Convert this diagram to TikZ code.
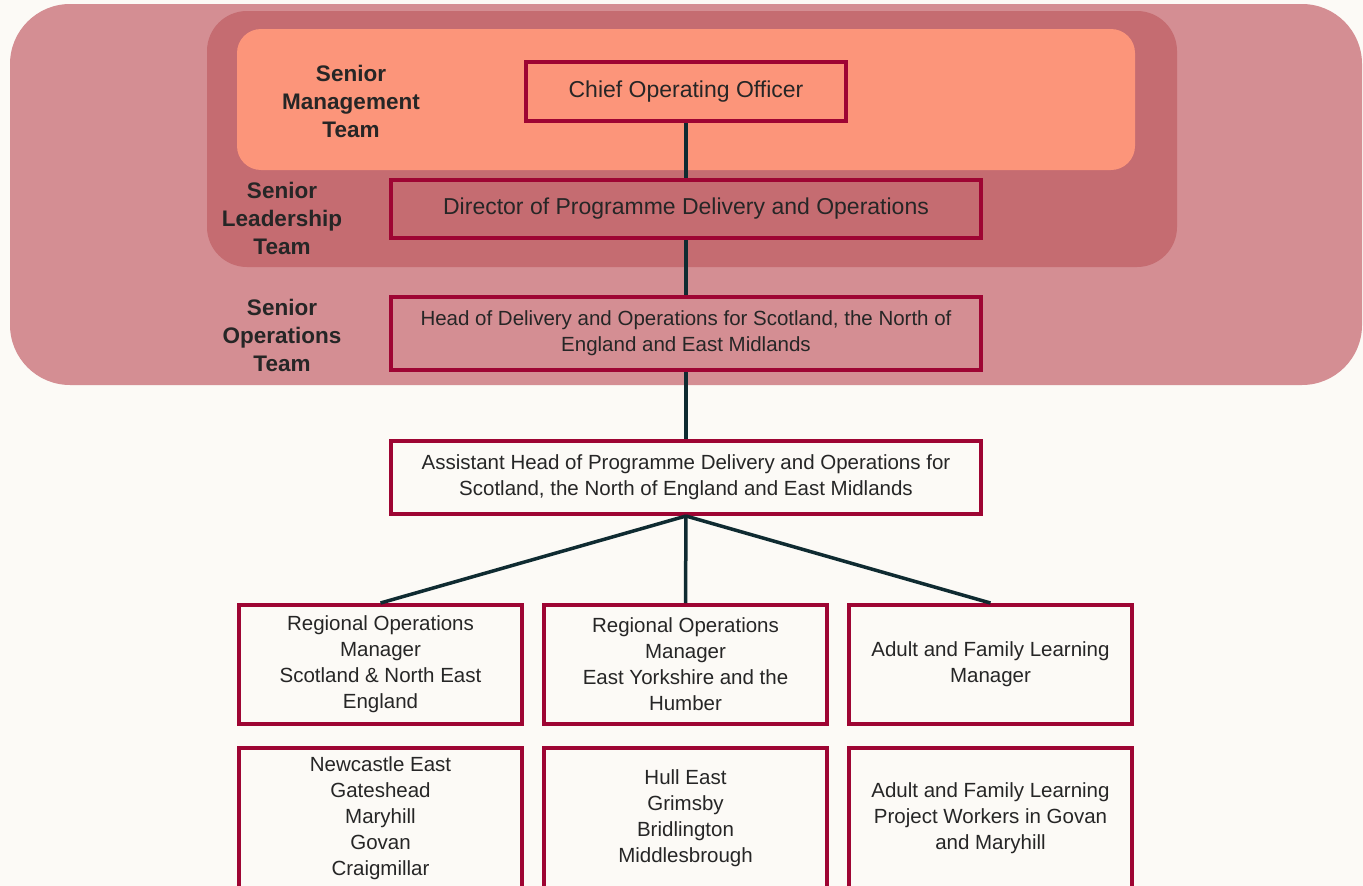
\documentclass[tikz,border=0pt]{standalone}
\usepackage{fontspec}
\setmainfont{Liberation Sans}

\definecolor{pagebg}{HTML}{FCFAF6}
\definecolor{opsband}{HTML}{D48E93}
\definecolor{leadband}{HTML}{C56C71}
\definecolor{mgmtband}{HTML}{FC957A}
\definecolor{postred}{HTML}{9E0533}
\definecolor{linkteal}{HTML}{0F2B31}
\definecolor{textgrey}{HTML}{262626}

\begin{document}
\begin{tikzpicture}[x=1pt, y=-1pt,
    post/.style={draw=postred, line width=4pt, align=center, text=textgrey,
      inner sep=0pt, font=\fontsize{20.5}{26}\selectfont},
    bigpost/.style={post, font=\fontsize{23}{28}\selectfont},
    link/.style={draw=linkteal, line width=3.5pt},
    team/.style={align=center, text=textgrey, font=\bfseries\fontsize{22.5}{28}\selectfont}]
    \useasboundingbox (0,0) rectangle (1363,886);
    \clip (0,0) rectangle (1363,886);
    \fill [pagebg] (0,0) rectangle (1363,886);

    % team bands
    \fill [opsband, rounded corners=60pt] (10,4) rectangle (1362,385);
    \fill [leadband, rounded corners=40pt] (207,11) rectangle (1177,267);
    \fill [mgmtband, rounded corners=24pt] (237,29) rectangle (1135,170);

    \node [team] (smt) at (351,101) {Senior\\Management\\Team};
    \node [team] (slt) at (282,218) {Senior\\Leadership\\Team};
    \node [team] (sot) at (282,335) {Senior\\Operations\\Team};

    % posts
    \node [bigpost, minimum width=320, minimum height=59] (coo) at (686,91.5) {Chief Operating Officer};
    \node [bigpost, minimum width=590, minimum height=58] (dir) at (686,209) {Director of Programme Delivery and Operations};
    \node [post, minimum width=590, minimum height=73] (head) at (686,333.5)
        {Head of Delivery and Operations for Scotland, the North of\\England and East Midlands};
    \node [post, minimum width=590, minimum height=73] (asst) at (686,477.5)
        {Assistant Head of Programme Delivery and Operations for\\Scotland, the North of England and East Midlands};

    \node [post, minimum width=283, minimum height=119] (romscot) at (380.5,664.5)
        {Regional Operations\\Manager\\Scotland \& North East\\England};
    \node [post, minimum width=283, minimum height=119] (romyork) at (685.5,664.5)
        {Regional Operations\\Manager\\East Yorkshire and the\\Humber};
    \node [post, minimum width=283, minimum height=119] (aflm) at (990.5,664.5)
        {Adult and Family Learning\\Manager};

    \node [post, minimum width=283, minimum height=141.5] (scotsites) at (380.5,818.25)
        {Newcastle East\\Gateshead\\Maryhill\\Govan\\Craigmillar};
    \node [post, minimum width=283, minimum height=141.5] (yorksites) at (685.5,818.25)
        {Hull East\\Grimsby\\Bridlington\\Middlesbrough};
    \node [post, minimum width=283, minimum height=141.5] (aflw) at (990.5,818.25)
        {Adult and Family Learning\\Project Workers in Govan\\and Maryhill};

    % reporting lines
    \draw [link] (coo.south) -- (dir.north);
    \draw [link] (dir.south) -- (head.north);
    \draw [link] (head.south) -- (asst.north);
    \draw [link] (asst.south) -- (romscot.north);
    \draw [link] (asst.south) -- (romyork.north);
    \draw [link] (asst.south) -- (aflm.north);
\end{tikzpicture}
\end{document}
